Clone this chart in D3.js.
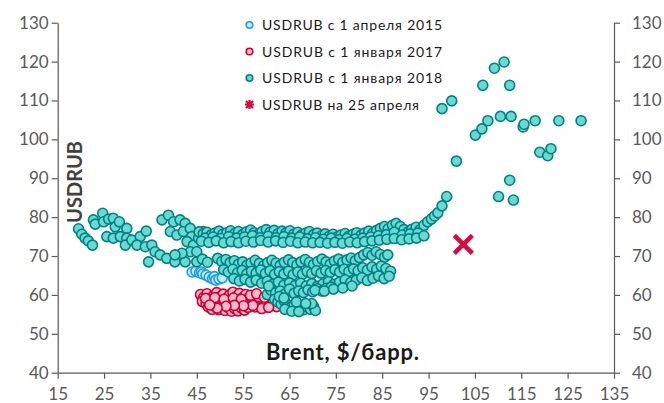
<!DOCTYPE html>
<html><head><meta charset="utf-8">
<script src="https://cdn.jsdelivr.net/npm/d3@7"></script>
<style>
html,body{margin:0;padding:0;background:#fff;}
svg{display:block;font-family:Lato,"Open Sans",sans-serif;}
</style></head>
<body><svg id="chart" width="664" height="403"></svg>
<script>
// ---- data (Brent, USDRUB) ----
const xTicks = [15,25,35,45,55,65,75,85,95,105,115,125,135];
const yTicks = [40,50,60,70,80,90,100,110,120,130];
const legendLabels = ["USDRUB с 1 апреля 2015","USDRUB с 1 января 2017","USDRUB с 1 января 2018","USDRUB на 25 апреля"];

const series2015 = [[44.0,65.9],[44.8,66.1],[45.6,65.7],[46.0,65.9],[46.3,65.4],[47.0,65.1],[47.7,64.6],[48.4,64.2],[48.8,64.7],[49.1,63.8],[49.8,64.1],[50.5,64.4]];

const series2017 = [[45.8,60.1],[46.5,59.4],[47.2,60.3],[47.9,59.0],[48.6,59.8],[49.3,60.6],[50.0,59.5],[50.7,60.2],[51.4,59.1],[52.1,60.0],[52.8,60.7],[53.5,59.6],[54.2,60.4],[54.9,59.3],[55.6,60.1],[56.3,59.4],
[46.2,58.3],[47.0,57.8],[47.7,58.6],[48.4,57.5],[49.1,58.2],[49.8,57.3],[50.5,58.4],[51.2,57.7],[51.9,58.5],[52.6,57.4],[53.3,58.1],[54.0,57.6],[54.7,58.6],[55.4,57.9],[56.1,58.7],[56.8,57.6],
[47.5,56.9],[48.3,56.3],[49.0,57.0],[49.7,56.2],[50.4,56.8],[51.1,56.0],[51.8,56.7],[52.5,55.8],[53.2,56.5],[53.9,55.9],[54.6,56.6],[55.3,56.1],[56.0,56.8],
[57.3,58.8],[58.0,57.9],[58.7,58.6],[59.4,57.3],[60.1,58.2],[60.8,57.6],[61.5,58.4],[62.2,57.0],[57.6,56.9],[59.0,56.5],[60.5,56.8],[61.9,59.1],[58.3,59.5],
[46.9,59.1],[48.9,59.3],[50.9,58.9],[52.9,59.2],[54.6,58.9],[56.6,59.9],[57.9,60.3],[59.6,59.4],[61.2,60.0],[62.6,58.2],[57.1,57.3],[55.1,57.2],[53.1,57.3],[51.3,57.1],[49.4,56.6],[47.8,57.4]];

const series2018 = [
// 2020 low-oil region
[19.5,77],[20.2,75.6],[20.9,74.6],[21.6,73.9],[22.5,72.8],[22.7,79.3],[23.1,78.2],[24.7,81],[24.9,78.8],[26,79.5],[27,79.7],[27.4,77.5],[28.3,78.8],[29.9,77.1],[25.6,75],[27,74.6],[28.5,75],[29.9,74.6],[29.6,72.8],[31,74.1],[32.8,75],[34.1,76.4],[32.1,72.8],[33.9,72.4],[35.3,72.8],[36,71.1],[37.1,70.3],[34.6,68.5],[38.5,69.4],[40.3,68.5],[42.5,68.5],[45,68.5],
[37.5,79.3],[38.9,80.5],[40,78.8],[41.4,79.3],[42.5,78.4],[39.3,76.3],[40.7,75.4],[42.1,76.3],[43.6,77.1],[43.9,75],[42.9,73.7],[44.3,72.8],[43.6,71.1],[45,71.1],[41.8,70.7],[40.3,70.3],[45.4,74.6],[46.4,76.3],[47.5,75.4],[48.6,75],[49.3,75.9],[46.2,69.2],[47.3,68.4],
// 2021 upper band
[45.5,76.2],[46.4,75.7],[47.2,76.1],[48.1,75.4],[48.9,75.9],[49.8,76.4],[50.6,75.6],[51.5,76.0],[52.3,76.5],[53.2,75.8],[54.0,76.3],[54.9,75.5],[55.7,76.2],[56.6,76.7],[57.4,76.0],[58.3,75.6],[59.1,76.3],[60.0,76.8],[60.8,76.1],[61.7,76.6],[62.5,75.7],[63.4,76.4],[64.2,75.9],[65.1,76.5],[65.9,75.6],[66.8,76.1],[67.6,75.4],[68.5,75.9],[69.3,76.3],[70.2,75.5],[71.0,75.9],[71.9,75.2],[72.7,75.7],[73.6,75.1],[74.4,75.6],[75.3,74.9],[76.1,75.4],[77.0,75.8],[77.8,75.1],[78.7,75.6],[79.5,76.0],[80.4,75.3],[81.2,75.9],[82.1,76.4],[82.9,75.8],[83.8,76.6],[84.6,77.1],[85.5,77.6],[86.3,77.0],[87.2,77.9],[88.0,78.4],[88.9,77.6],[89.7,76.8],[90.6,76.2],[91.4,76.9],[92.3,77.4],[93.1,76.7],[94.0,77.9],[94.8,78.8],[95.6,79.5],[96.3,80.3],[97.0,81.1],[97.9,82.9],[98.9,85.3],
[46.8,74.6],[48.5,74.9],[50.2,74.5],[51.9,75.0],[53.6,74.6],[55.3,74.9],[57.0,75.2],[58.7,74.7],[60.4,75.1],[62.1,74.7],[63.8,75.0],[65.5,74.6],[67.2,74.9],[68.9,74.4],[70.6,74.7],[72.3,74.3],[74.0,74.6],[75.7,74.2],[77.4,74.5],[79.1,74.3],[80.8,74.6],[82.5,74.9],[84.2,75.2],[85.9,75.5],[87.6,76.1],[89.3,75.4],[91.0,75.7],[92.7,75.9],
[46.0,73.8],[47.6,73.5],[49.2,73.9],[50.8,73.4],[52.4,73.7],[54.0,73.4],[55.6,73.8],[57.2,73.6],[58.8,74.0],[60.4,73.6],[62.0,73.9],[63.6,73.5],[65.2,73.8],[66.8,73.4],[68.4,73.6],[70.0,73.4],[71.6,73.5],[73.2,73.3],[74.8,73.5],[76.4,73.3],[78.0,73.6],[79.6,73.4],[81.2,73.7],[82.8,73.9],[84.4,74.1],[86.0,74.3],[87.6,74.5],[89.2,74.2],[90.8,74.4],[92.4,74.6],[94.0,75.2],
// 2018-2019 middle band
[49.5,69.4],[50.4,68.6],[51.3,69.1],[52.2,68.3],[53.1,68.8],[54.0,67.9],[54.9,68.5],[55.8,67.6],[56.7,68.2],[57.6,68.9],[58.5,68.1],[59.4,67.5],[60.3,68.3],[61.2,68.9],[62.1,68.2],[63.0,67.6],[63.9,68.4],[64.8,69.0],[65.7,68.3],[66.6,67.7],[67.5,68.5],[68.4,69.1],[69.3,68.4],[70.2,67.8],[71.1,68.6],[72.0,69.2],[72.9,68.5],[73.8,67.9],[74.7,68.7],[75.6,69.2],[76.5,68.4],[77.4,69.0],[78.3,69.5],[79.2,68.8],[80.1,69.6],[81.0,70.3],[81.9,70.9],[82.8,70.2],[83.7,71.1],[84.6,70.4],[85.5,69.7],[86.2,70.3],
[50.8,66.5],[51.8,65.9],[52.8,66.6],[53.8,65.7],[54.8,66.3],[55.8,65.4],[56.8,66.1],[57.8,65.6],[58.8,66.4],[59.8,65.5],[60.8,66.2],[61.8,65.3],[62.8,66.0],[63.8,65.4],[64.8,66.1],[65.8,65.2],[66.8,65.9],[67.8,65.3],[68.8,66.0],[69.8,65.5],[70.8,66.2],[71.8,65.6],[72.8,66.3],[73.8,65.8],[74.8,66.5],[75.8,65.9],[76.8,66.6],[77.8,66.0],[78.8,66.7],[79.8,66.2],[80.8,67.0],[81.8,66.4],[82.8,67.2],[83.8,66.6],[84.8,67.4],[85.8,66.8],[86.8,66.1],
[53.0,64.2],[54.2,63.6],[55.4,64.0],[56.6,63.3],[57.8,63.8],[59.0,63.0],[60.2,63.5],[61.4,62.7],[62.6,63.3],[63.8,62.5],[65.0,63.1],[66.2,62.4],[67.4,63.0],[68.6,62.3],[69.8,62.9],[71.0,62.2],[72.2,62.8],[73.4,63.4],[74.6,62.7],[75.8,63.3],[77.0,63.9],[78.2,63.2],[79.4,63.8],[80.6,64.4],[81.8,63.7],[83.0,64.3],[84.2,64.9],[85.4,64.2],[86.5,64.8],
// transition and early-2018 cluster
[60.2,60.1],[61.0,61.2],[60.5,62.3],[62.0,60.5],[63.0,61.0],[64.0,60.2],[65.0,61.5],[66.0,60.4],[67.0,61.0],[68.0,60.6],[69.0,61.3],[70.0,60.8],[71.0,61.6],[72.0,61.0],[73.0,61.7],[74.0,62.0],[70.5,61.2],[72.5,61.0],[74.5,61.5],[76.5,61.8],[78.5,62.3],
[61.8,58.9],[62.5,58.2],[63.2,57.6],[63.9,58.4],[64.6,57.3],[65.3,56.8],[66.0,57.5],[66.7,56.4],[67.4,57.1],[68.1,56.2],[68.8,56.9],[69.5,56.3],[70.2,57.0],[70.6,56.0],[64.0,56.3],[65.5,55.8],[67.0,55.7],[62.8,59.6],[63.8,59.2],[69.8,57.8],[66.5,58.2],[68.5,57.8],
// 2022 spike
[97.9,107.9],[100.0,109.9],[101.0,94.4],[105.1,101.1],[106.5,102.7],[107.8,104.8],[106.7,113.9],[109.2,118.3],[111.3,119.9],[112.5,113.9],[110.5,105.9],[112.8,105.9],[115.4,103.2],[115.6,103.9],[118.0,104.8],[123.1,104.8],[127.9,104.8],[119.0,96.7],[120.7,95.8],[121.4,97.6],[112.5,89.5],[110.1,85.3],[113.3,84.4]
];

const pointApr25 = [[102.5,73.0]];

// ---- layout ----
const svg = d3.select("#chart");
const x = d3.scaleLinear().domain([15,135]).range([57.7,614]);
const y = d3.scaleLinear().domain([40,130]).range([372.7,22.7]);
const axisColor = "#595959", tickTextColor = "#595959";

// axes
const gL = svg.append("g").attr("transform",`translate(${x(15)},0)`)
  .call(d3.axisLeft(y).tickValues(yTicks).tickSize(6).tickPadding(3).tickSizeOuter(0));
const gR = svg.append("g").attr("transform",`translate(${x(135)},0)`)
  .call(d3.axisRight(y).tickValues(yTicks).tickSize(6).tickPadding(12).tickSizeOuter(0));
const gB = svg.append("g").attr("transform",`translate(0,${y(40)})`)
  .call(d3.axisBottom(x).tickValues(xTicks).tickSize(6).tickPadding(9).tickSizeOuter(0));
[gL,gR,gB].forEach(g=>{
  g.select(".domain").attr("stroke",axisColor).attr("stroke-width",1.2);
  g.selectAll(".tick line").attr("stroke",axisColor).attr("stroke-width",1.2);
  g.selectAll(".tick text").attr("fill",tickTextColor).style("font-family","Lato, sans-serif").style("font-size","17px");
});

// scatter
function drawSeries(data, fill, stroke){
  svg.append("g").selectAll("circle").data(data).join("circle")
    .attr("cx",d=>x(d[0])).attr("cy",d=>y(d[1])).attr("r",5)
    .attr("fill",fill).attr("stroke",stroke).attr("stroke-width",1.6);
}
drawSeries(series2015,"#C4ECFF","#1C9CE0");
drawSeries(series2017,"#FFB9CA","#CC0033");
drawSeries(series2018,"#6AD9CE","#00808A");

svg.append("g").selectAll("path").data(pointApr25).join("path")
  .attr("transform",d=>`translate(${x(d[0])},${y(d[1])})`)
  .attr("d","M-9,-9L9,9M-9,9L9,-9")
  .attr("stroke","#D60A3C").attr("stroke-width",4.5).attr("fill","none");

// axis titles
svg.append("text").attr("transform","translate(82,182) rotate(-90)")
  .attr("text-anchor","middle").attr("fill","#404040")
  .style("font-family","Lato, sans-serif").style("font-weight","700").style("font-size","20px")
  .text("USDRUB");
svg.append("text").attr("x",266).attr("y",360)
  .attr("fill","#1a1a1a")
  .attr("textLength",153).attr("lengthAdjust","spacing")
  .style("font-family","Lato, sans-serif").style("font-weight","700").style("font-size","22px")
  .text("Brent, $/барр.");

// legend
const lg = svg.append("g");
const legendY = [25,51.5,78,104.5];
const legendEnd = [442,442,442,419];
const legendStyles = [["#C4ECFF","#1C9CE0"],["#FFB9CA","#CC0033"],["#6AD9CE","#00808A"]];
legendLabels.forEach((lab,i)=>{
  if(i<3){
    lg.append("circle").attr("cx",249.5).attr("cy",legendY[i]).attr("r",3.3)
      .attr("fill",legendStyles[i][0]).attr("stroke",legendStyles[i][1]).attr("stroke-width",1.6);
  } else {
    lg.append("path").attr("transform",`translate(249.5,${legendY[i]})`)
      .attr("d","M-3.5,-3.5L3.5,3.5M-3.5,3.5L3.5,-3.5M0,-4.5L0,4.5M-4.5,0L4.5,0")
      .attr("stroke","#D60A3C").attr("stroke-width",2.2);
  }
  lg.append("text").attr("x",262).attr("y",legendY[i]+5)
    .attr("fill","#1a1a1a").style("font-family","Lato, sans-serif").style("font-size","14px")
    .attr("textLength",legendEnd[i]-262).attr("lengthAdjust","spacing")
    .text(lab);
});
</script></body></html>
